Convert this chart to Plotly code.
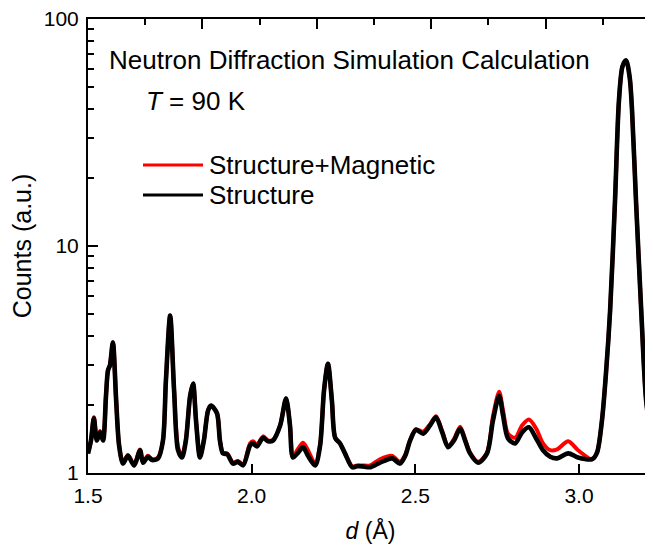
import plotly.graph_objects as go

# d-spacing (Å) sampled along the curves
d_vals = [1.500, 1.509, 1.518, 1.527, 1.537, 1.546, 1.555, 1.561, 1.567, 1.576,
          1.586, 1.595, 1.607, 1.622, 1.641, 1.659, 1.668, 1.683, 1.696, 1.714,
          1.729, 1.738, 1.751, 1.763, 1.775, 1.787, 1.799, 1.812, 1.821, 1.830,
          1.842, 1.854, 1.867, 1.876, 1.894, 1.903, 1.912, 1.925, 1.943, 1.958,
          1.974, 1.995, 2.004, 2.016, 2.035, 2.050, 2.065, 2.087, 2.105, 2.117,
          2.126, 2.142, 2.157, 2.172, 2.194, 2.209, 2.221, 2.233, 2.245, 2.255,
          2.270, 2.285, 2.307, 2.322, 2.337, 2.362, 2.392, 2.429, 2.453, 2.469,
          2.484, 2.502, 2.524, 2.545, 2.563, 2.582, 2.600, 2.618, 2.637, 2.652,
          2.667, 2.692, 2.719, 2.737, 2.756, 2.768, 2.783, 2.805, 2.826, 2.847,
          2.869, 2.890, 2.912, 2.933, 2.967, 2.997, 3.040, 3.055, 3.070, 3.083,
          3.095, 3.110, 3.122, 3.133, 3.144, 3.155, 3.162, 3.174, 3.190, 3.205,
          3.223]

# Structure only (black)
structure = [1.22, 1.39, 1.74, 1.39, 1.51, 1.39, 2.19, 2.83, 2.98, 3.76,
             2.09, 1.32, 1.10, 1.19, 1.08, 1.26, 1.11, 1.18, 1.14, 1.16,
             1.39, 2.55, 4.94, 2.31, 1.26, 1.17, 1.39, 2.19, 2.48, 1.70,
             1.17, 1.39, 1.89, 1.98, 1.83, 1.39, 1.22, 1.21, 1.10, 1.12,
             1.08, 1.32, 1.35, 1.31, 1.43, 1.38, 1.39, 1.62, 2.13, 1.62,
             1.17, 1.23, 1.30, 1.19, 1.08, 1.32, 2.31, 3.03, 2.09, 1.43,
             1.35, 1.22, 1.06, 1.07, 1.07, 1.06, 1.11, 1.16, 1.10, 1.19,
             1.39, 1.55, 1.49, 1.62, 1.76, 1.51, 1.30, 1.39, 1.57, 1.39,
             1.22, 1.11, 1.22, 1.70, 2.19, 1.79, 1.42, 1.35, 1.51, 1.59,
             1.42, 1.26, 1.18, 1.16, 1.22, 1.17, 1.15, 1.23, 1.70, 2.83,
             5.20, 15.9, 43.8, 62.0, 65.7, 55.0, 39.5, 15.9, 5.20, 2.09,
             1.35]

# Structure + Magnetic (red)
struct_mag = [1.22, 1.39, 1.76, 1.42, 1.53, 1.40, 2.19, 2.83, 2.98, 3.76,
              2.09, 1.33, 1.11, 1.20, 1.09, 1.27, 1.12, 1.19, 1.15, 1.17,
              1.39, 2.55, 4.94, 2.31, 1.30, 1.19, 1.40, 2.19, 2.48, 1.71,
              1.18, 1.40, 1.89, 1.98, 1.84, 1.40, 1.23, 1.22, 1.11, 1.13,
              1.09, 1.35, 1.38, 1.33, 1.45, 1.39, 1.40, 1.62, 2.13, 1.63,
              1.18, 1.28, 1.36, 1.26, 1.10, 1.33, 2.31, 3.03, 2.09, 1.43,
              1.35, 1.22, 1.07, 1.08, 1.08, 1.08, 1.15, 1.19, 1.12, 1.20,
              1.40, 1.56, 1.52, 1.64, 1.78, 1.53, 1.31, 1.41, 1.60, 1.41,
              1.23, 1.12, 1.23, 1.77, 2.28, 1.88, 1.49, 1.43, 1.62, 1.72,
              1.57, 1.35, 1.26, 1.27, 1.38, 1.26, 1.15, 1.23, 1.70, 2.83,
              5.20, 15.9, 43.8, 62.0, 65.7, 55.0, 39.5, 15.9, 5.20, 2.09,
              1.35]

x_ticks = [1.5, 2.0, 2.5, 3.0]
x_ticktext = ["1.5", "2.0", "2.5", "3.0"]

FONT = "Liberation Sans, Arial, sans-serif"

fig = go.Figure()
fig.add_trace(go.Scatter(x=d_vals, y=struct_mag, mode="lines", name="Structure+Magnetic",
                         line=dict(color="#ff0000", width=4, shape="spline", smoothing=0.8),
                         showlegend=False))
fig.add_trace(go.Scatter(x=d_vals, y=structure, mode="lines", name="Structure",
                         line=dict(color="#000000", width=4.6, shape="spline", smoothing=0.8),
                         showlegend=False))
# invisible trace so that the top tick axis is drawn
fig.add_trace(go.Scatter(x=[0], y=[1], xaxis="x2", yaxis="y", mode="markers",
                         marker=dict(opacity=0), showlegend=False, hoverinfo="skip"))

# page body has an 8px default margin -> figure is 645x538 so that the plot fills the window
fig.update_layout(
    width=645, height=538,
    margin=dict(l=80, r=0, t=11, b=73),
    paper_bgcolor="white", plot_bgcolor="white",
    font=dict(family=FONT, color="black", size=21),
    xaxis=dict(range=[1.5, 3.226], tickvals=x_ticks, ticktext=x_ticktext,
               ticks="inside", ticklen=9, tickwidth=2, tickcolor="black",
               showline=True, linecolor="black", linewidth=2, mirror=True,
               showgrid=False, zeroline=False, tickfont=dict(size=21),
               automargin=False, ticklabelstandoff=3, ticklabeloverflow="allow",
               title=dict(text="<i>d</i> (Å)", font=dict(size=23), standoff=17)),
    xaxis2=dict(overlaying="x", side="top", anchor="y", range=[0, 9.878],
                tick0=0, dtick=2, ticks="inside", ticklen=10, tickwidth=2,
                tickcolor="black", showticklabels=False, showline=False,
                showgrid=False, zeroline=False, automargin=False,
                minor=dict(dtick=1, tick0=0, ticks="inside", ticklen=6,
                           tickwidth=1.5, tickcolor="black", showgrid=False)),
    yaxis=dict(type="log", range=[0, 2], tick0=0, dtick=1,
               ticks="inside", ticklen=10, tickwidth=2, tickcolor="black",
               showline=True, linecolor="black", linewidth=2, mirror=False,
               showgrid=False, zeroline=False, tickfont=dict(size=21),
               automargin=False, ticklabelstandoff=3, ticklabeloverflow="allow",
               minor=dict(dtick="D1", ticks="inside", ticklen=6,
                          tickwidth=1.5, tickcolor="black", showgrid=False),
               title=dict(text="Counts (a.u.)", font=dict(size=25), standoff=9)),
)

# text annotations
fig.add_annotation(xref="paper", yref="paper", x=(107 - 88) / 565, y=(473 - 60) / 454,
                   xanchor="left", yanchor="middle", showarrow=False,
                   text="Neutron Diffraction Simulation Calculation", font=dict(size=26))
fig.add_annotation(xref="paper", yref="paper", x=(144 - 88) / 565, y=(473 - 101) / 454,
                   xanchor="left", yanchor="middle", showarrow=False,
                   text="<i>T</i> = 90 K", font=dict(size=26))

# manual legend
legend_items = [("Structure+Magnetic", "#ff0000", 165), ("Structure", "#000000", 195)]
for label, color, ypx in legend_items:
    yp = (473 - ypx) / 454
    fig.add_shape(type="line", xref="paper", yref="paper",
                  x0=(143 - 88) / 565, x1=(203 - 88) / 565, y0=yp, y1=yp,
                  line=dict(color=color, width=3))
    fig.add_annotation(xref="paper", yref="paper", x=(207 - 88) / 565, y=yp,
                       xanchor="left", yanchor="middle", showarrow=False,
                       text=label, font=dict(size=26))

fig.write_html("out.html")
